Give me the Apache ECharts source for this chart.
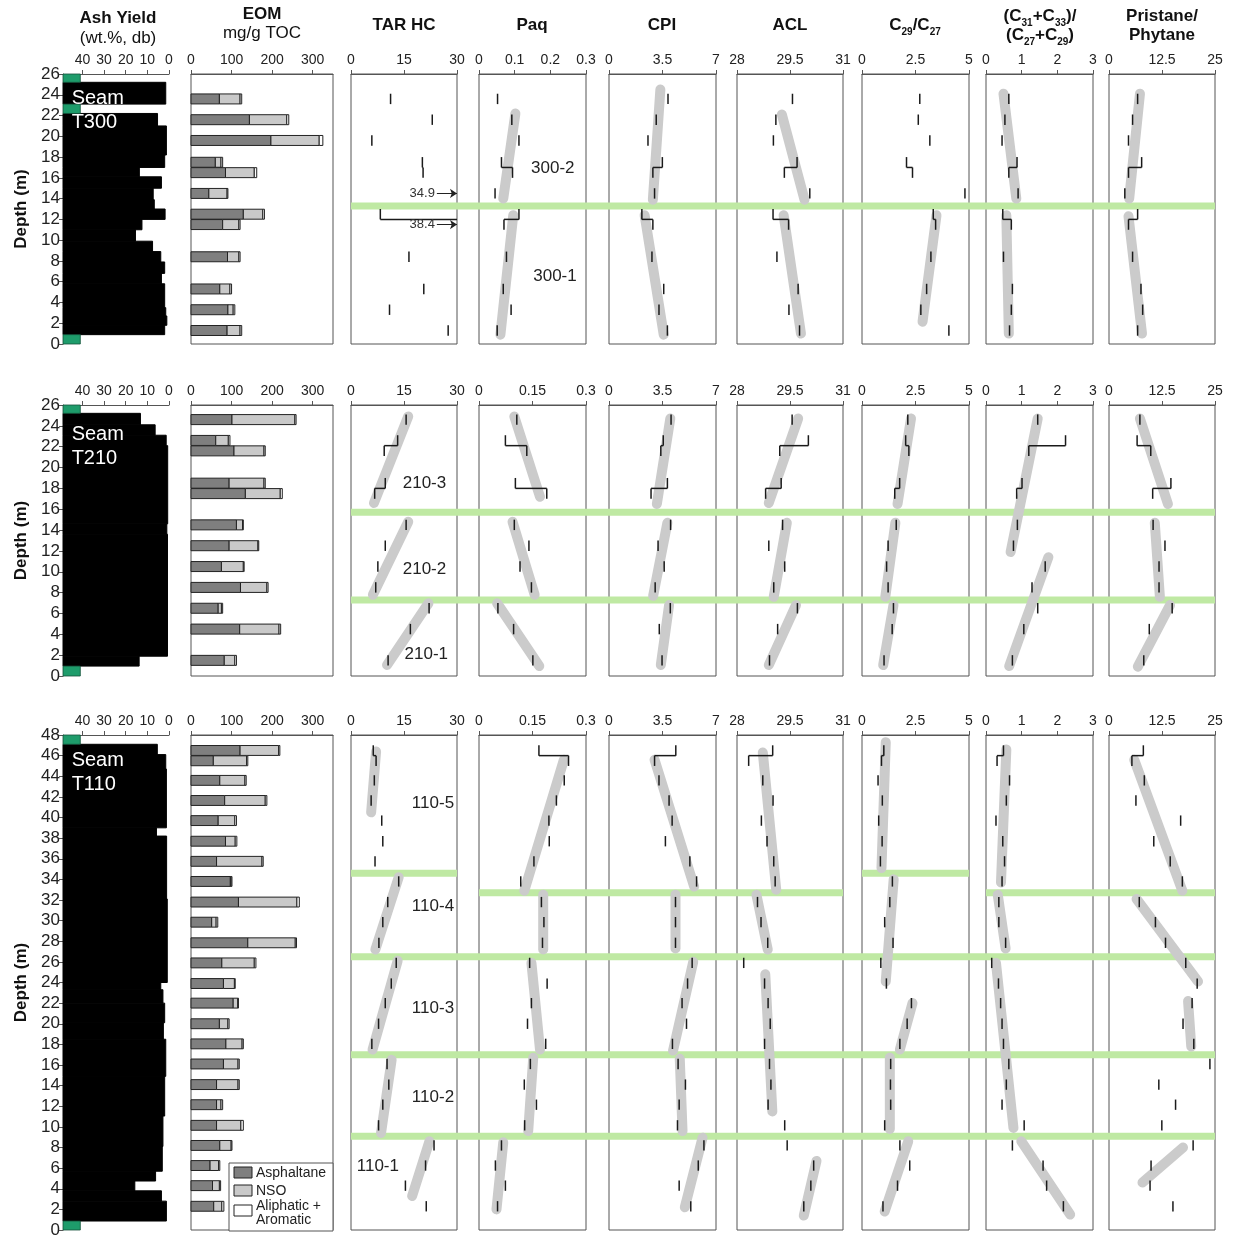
<!DOCTYPE html>
<html>
<head>
<meta charset="utf-8">
<script src="https://cdn.jsdelivr.net/npm/echarts@6/dist/echarts.min.js"></script>
<style>
html,body{margin:0;padding:0;background:#fff;}
#main{width:1235px;height:1239px;}
</style>
</head>
<body>
<div id="main"></div>
<script>
var FONT = '"Liberation Sans", Arial, sans-serif';

// ---------------- data ----------------
var seamNames = ['T300', 'T210', 'T110'];
var depthMax = [26, 26, 48];

// sample mid-depths (m)
var depth300 = [23.6, 21.6, 19.6, 17.5, 16.5, 14.5, 12.5, 11.5, 8.4, 5.3, 3.3, 1.3];
var depth210 = [24.6, 22.6, 21.6, 18.5, 17.5, 14.5, 12.5, 10.5, 8.5, 6.5, 4.5, 1.5];
var depth110 = [46.5, 45.5, 43.6, 41.65, 39.7, 37.7, 35.75, 33.8, 31.8, 29.85, 27.85, 25.9,
                23.9, 22.0, 20.0, 18.05, 16.1, 14.1, 12.15, 10.15, 8.2, 6.25, 4.3, 2.3];

// ash yield intervals [top, bottom, ash wt.%]
var ash300 = [[25.2,23.1,1.5],[22.2,21.0,5.3],[21.0,18.2,1.2],[18.2,17.0,2.0],[17.0,16.1,13.7],[16.1,15.0,3.5],
              [15.0,13.9,7.3],[13.9,13.0,6.8],[13.0,12.0,1.8],[12.0,11.0,12.5],[11.0,9.9,15.5],[9.9,8.9,7.6],
              [8.9,7.9,3.8],[7.9,6.8,2.0],[6.8,5.8,3.5],[5.8,3.5,2.0],[3.5,2.7,1.5],[2.7,1.8,1.0],[1.8,0.9,2.0]];
var ash210 = [[25.2,24.1,13.2],[24.1,23.1,6.4],[23.1,22.1,1.3],[22.1,14.6,0.6],[14.6,13.6,1.0],[13.6,1.9,0.7],[1.9,0.95,13.8]];
var ash110 = [[47.1,46.1,5.4],[46.1,44.7,1.5],[44.7,39.0,1.2],[39.0,38.2,5.8],[38.2,32.1,1.1],[32.1,24.0,0.8],
              [24.0,23.3,3.8],[23.3,22.0,2.8],[22.0,20.1,2.0],[20.1,18.5,2.6],[18.5,14.9,1.5],[14.9,11.05,2.0],
              [11.05,8.1,2.8],[8.1,5.7,3.1],[5.7,4.75,6.2],[4.75,3.8,15.8],[3.8,2.8,3.5],[2.8,0.87,1.2]];
// non-coal intervals [top, bottom]
var rock300 = [[26,25.2],[23.1,22.2],[0.9,0]];
var rock210 = [[26,25.2],[0.95,0]];
var rock110 = [[48,47.1],[0.87,0]];

// EOM fractions (mg/g TOC)
var asph300 = [70, 144, 197, 60, 85, 44, 129, 78, 90, 71, 91, 89];
var nso300 = [51, 92, 119, 14, 71, 45, 48, 40, 28, 25, 13, 32];
var aliph300 = [4, 5, 9, 4, 6, 2, 4, 3, 3, 4, 4, 4];
var asph210 = [101, 61, 106, 94, 134, 112, 94, 75, 122, 67, 120, 82];
var nso210 = [155, 31, 74, 86, 86, 15, 71, 54, 65, 8, 97, 26];
var aliph210 = [3, 4, 3, 3, 5, 2, 2, 2, 3, 3, 4, 4];
var asph110 = [121,55,71,83,67,85,63,97,117,51,140,76,80,104,70,86,80,63,63,63,71,47,53,56];
var nso110 = [95,82,62,100,41,24,112,2,144,11,117,80,27,11,21,40,36,53,11,60,28,21,17,20];
var aliph110 = [3,3,3,4,4,4,3,2,6,4,3,4,2,2,3,3,3,3,4,6,2,3,3,5];

// geochemical parameters
var tarhc300 = [11.2, 23.0, 5.9, 20.2, 20.4, 34.9, 8.3, 38.4, 16.4, 20.6, 10.9, 27.5];
var paq300 = [0.052, 0.092, 0.112, 0.063, 0.094, 0.045, 0.112, 0.070, 0.077, 0.068, 0.090, 0.051];
var cpi300 = [3.86, 3.09, 2.55, 3.49, 2.87, 2.98, 2.15, 2.87, 2.81, 3.58, 3.27, 3.82];
var acl300 = [29.57, 29.10, 29.03, 29.70, 29.34, 30.06, 29.02, 29.46, 29.13, 29.73, 29.47, 29.77];
var c2927_300 = [2.70, 2.63, 3.17, 2.08, 2.36, 4.81, 3.33, 3.44, 3.22, 3.02, 2.75, 4.06];
var c3133_300 = [0.64, 0.53, 0.45, 0.87, 0.64, 0.90, 0.47, 0.71, 0.49, 0.74, 0.71, 0.66];
var prph300 = [6.75, 5.56, 4.6, 7.7, 4.6, 3.73, 6.75, 4.6, 5.56, 7.54, 7.94, 6.75];

var tarhc210 = [15.6, 13.2, 9.4, 9.7, 6.7, 15.6, 9.7, 7.6, 7.0, 22.1, 16.8, 10.5];
var paq210 = [0.106, 0.074, 0.134, 0.102, 0.19, 0.099, 0.140, 0.115, 0.147, 0.053, 0.097, 0.151];
var cpi210 = [4.06, 3.55, 3.39, 3.82, 2.75, 4.03, 3.21, 3.61, 3.02, 4.01, 3.29, 3.47];
var acl210 = [29.56, 30.02, 29.21, 29.25, 28.81, 29.29, 28.90, 29.35, 29.04, 29.71, 29.15, 28.92];
var c2927_210 = [2.14, 2.04, 2.19, 1.76, 1.53, 1.60, 1.22, 1.15, 1.22, 1.47, 1.41, 1.03];
var c3133_210 = [1.45, 2.23, 1.20, 1.01, 0.86, 0.88, 0.77, 1.66, 1.29, 1.45, 1.06, 0.74];
var prph210 = [7.29, 6.63, 9.85, 14.6, 10.3, 10.4, 13.2, 11.8, 11.8, 14.9, 9.5, 8.2];

var tarhc110 = [6.3, 7.1, 6.6, 5.7, 8.7, 9.0, 6.8, 13.5, 10.4, 9.0, 7.9, 12.8, 11.4, 9.7, 7.8, 5.9, 10.2, 10.7, 9.0, 7.8, 23.5, 21.1, 15.4, 21.3];
var paq110 = [0.168, 0.251, 0.239, 0.217, 0.196, 0.197, 0.154, 0.117, 0.175, 0.182, 0.178, 0.142, 0.191, 0.147, 0.136, 0.187, 0.144, 0.127, 0.161, 0.128, 0.063, 0.046, 0.074, 0.052];
var cpi110 = [4.37, 2.98, 3.27, 3.93, 4.13, 3.69, 5.29, 5.73, 4.35, 4.35, 4.35, 5.44, 5.14, 4.78, 5.07, 4.15, 4.52, 5.0, 4.59, 4.48, 6.21, 5.84, 4.59, 5.35];
var acl110 = [29.01, 28.33, 28.73, 29.02, 28.69, 28.85, 29.04, 29.08, 28.58, 28.68, 28.87, 28.19, 28.78, 28.88, 28.94, 28.78, 28.92, 28.96, 28.88, 29.35, 29.42, 30.17, 30.09, 29.89];
var c2927_110 = [1.02, 0.91, 0.75, 0.95, 0.78, 0.94, 0.86, 1.42, 1.30, 1.06, 1.45, 0.88, 1.14, 2.31, 2.11, 1.77, 1.34, 1.33, 1.34, 1.06, 1.77, 2.23, 1.66, 0.98];
var c3133_110 = [0.49, 0.31, 0.66, 0.57, 0.28, 0.47, 0.52, 0.45, 0.36, 0.36, 0.55, 0.16, 0.35, 0.41, 0.45, 0.49, 0.64, 0.57, 0.45, 1.07, 0.74, 1.60, 1.70, 2.17];
var prph110 = [8.1, 5.4, 8.33, 6.35, 16.9, 10.56, 14.44, 17.3, 7.14, 10.95, 13.33, 18.1, 20.8, 19.6, 17.46, 20.0, 23.8, 11.75, 15.7, 12.46, 19.84, 9.92, 9.68, 15.08];

// trend lines [value1, depth1, value2, depth2]
var trendPaq300 = [[0.102, 22.2, 0.068, 14.0], [0.096, 12.4, 0.060, 0.9]];
var trendCpi300 = [[3.36, 24.5, 2.87, 13.9], [2.33, 12.4, 3.58, 0.9]];
var trendAcl300 = [[29.27, 22.1, 29.91, 13.9], [29.32, 12.4, 29.81, 1.0]];
var trendC2927_300 = [[3.48, 12.4, 2.83, 2.15]];
var trendC3133_300 = [[0.49, 24.1, 0.85, 14.0], [0.57, 12.4, 0.64, 1.0]];
var trendPrph300 = [[7.3, 24.1, 4.76, 14.0], [4.6, 12.3, 7.78, 1.0]];

var trendTar210 = [[16.2, 24.9, 6.5, 16.6], [16.2, 14.8, 6.2, 7.8], [21.9, 6.97, 10.2, 1.06]];
var trendPaq210 = [[0.099, 24.9, 0.171, 17.2], [0.094, 14.8, 0.156, 7.8], [0.051, 6.97, 0.169, 0.96]];
var trendCpi210 = [[4.01, 24.7, 3.13, 16.5], [3.82, 14.7, 2.89, 7.7], [3.93, 6.8, 3.39, 1.05]];
var trendAcl210 = [[29.73, 24.7, 28.90, 16.6], [29.41, 14.7, 29.04, 7.6], [29.67, 6.8, 28.90, 1.05]];
var trendC2927_210 = [[2.29, 24.7, 1.66, 16.5], [1.56, 14.7, 1.09, 7.6], [1.47, 6.8, 0.99, 1.05]];
var trendC3133_210 = [[1.45, 24.7, 0.69, 11.9], [1.75, 11.4, 0.65, 0.95]];
var trendPrph210 = [[7.29, 24.7, 13.9, 16.5], [10.8, 14.7, 12.0, 7.6], [14.4, 6.8, 6.8, 0.9]];

var trendTar110 = [[7.1, 46.4, 5.7, 40.5], [13.5, 34.2, 6.9, 27.2], [13.2, 26.1, 6.1, 17.5], [11.5, 16.5, 8.5, 9.4], [22.2, 8.6, 17.3, 3.3]];
var trendPaq110 = [[0.238, 45.6, 0.127, 32.9], [0.18, 32.5, 0.18, 27.2], [0.147, 25.9, 0.171, 17.5], [0.152, 16.7, 0.138, 9.6], [0.068, 8.5, 0.049, 2.0]];
var trendCpi110 = [[2.98, 45.6, 5.57, 33.3], [4.35, 32.5, 4.35, 27.3], [5.51, 26.0, 4.19, 17.4], [4.63, 16.6, 4.81, 9.6], [6.12, 8.95, 4.96, 2.2]];
var trendAcl110 = [[28.73, 46.3, 29.11, 33.0], [28.55, 32.5, 28.87, 27.2], [28.80, 24.8, 29.0, 11.5], [30.25, 6.7, 29.89, 1.4]];
var trendC2927_110 = [[1.11, 47.3, 0.91, 35.1], [1.48, 34.0, 1.11, 24.1], [2.36, 22.0, 1.77, 17.5], [1.30, 16.7, 1.30, 9.8], [2.16, 8.6, 1.06, 1.8]];
var trendC3133_110 = [[0.57, 46.6, 0.42, 33.7], [0.33, 32.5, 0.55, 27.3], [0.28, 25.9, 0.77, 9.9], [0.99, 8.6, 2.36, 1.5]];
var trendPrph110 = [[5.95, 45.6, 17.3, 32.9], [6.5, 32.1, 21.0, 24.1], [18.65, 22.2, 19.4, 17.8], [17.46, 8.0, 7.9, 4.6]];

// subseam boundaries [depth, first panel, last panel]
var bound300 = [[13.3, 2, 8]];
var bound210 = [[15.7, 2, 8], [7.3, 2, 8]];
var bound110 = [[34.6, 2, 2], [34.6, 6, 6], [32.7, 3, 5], [32.7, 7, 8], [26.5, 2, 8], [17.0, 2, 8], [9.1, 2, 8]];

// subseam names
var subseam300 = ['300-2', '300-1'];
var subseam210 = ['210-3', '210-2', '210-1'];
var subseam110 = ['110-5', '110-4', '110-3', '110-2', '110-1'];

// axis tick labels
var ticksAsh = [0, 10, 20, 30, 40];
var ticksEom = [0, 100, 200, 300];
var ticksTar = [0, 15, 30];
var ticksPaq300 = [0, 0.1, 0.2, 0.3];
var ticksPaq = [0, 0.15, 0.3];
var ticksCpi = [0, 3.5, 7];
var ticksAcl = [28, 29.5, 31];
var ticksC2927 = [0, 2.5, 5];
var ticksC3133 = [0, 1, 2, 3];
var ticksPrph = [0, 12.5, 25];

// ---------------- layout ----------------
var colLeft = [63, 191, 351, 479, 609, 737, 862, 986, 1109];
var colWidth = [106, 142, 106, 107, 107, 106, 107, 107, 106];
var rowTop = [74, 405, 735];
var rowHeight = [270, 271, 495];
var axisMin = [0, 0, 0, 0, 0, 28, 0, 0, 0];
var axisMax = [49, 350, 30, 0.3, 7, 31, 5, 3, 25];
var HALF = 0.5;      // sample half thickness (m)
var BAR_HALF = 0.48;
// label anchors [panel, x value, depth]
var labelAt = [
  [[3, 0.207, 16.9], [3, 0.213, 6.5]],
  [[2, 20.8, 18.5], [2, 20.8, 10.2], [2, 21.3, 2.1]],
  [[2, 23.2, 41.4], [2, 23.2, 31.4], [2, 23.2, 21.5], [2, 23.2, 12.9], [2, 7.6, 6.2]]
];
var seamLabelAt = [[45.0, 24.8], [45.0, 24.3], [45.0, 46.7]];

var seams = [
  {depths: depth300, ash: ash300, rock: rock300, eom: [asph300, nso300, aliph300],
   params: [tarhc300, paq300, cpi300, acl300, c2927_300, c3133_300, prph300],
   trends: [[], trendPaq300, trendCpi300, trendAcl300, trendC2927_300, trendC3133_300, trendPrph300],
   bounds: bound300, names: subseam300},
  {depths: depth210, ash: ash210, rock: rock210, eom: [asph210, nso210, aliph210],
   params: [tarhc210, paq210, cpi210, acl210, c2927_210, c3133_210, prph210],
   trends: [trendTar210, trendPaq210, trendCpi210, trendAcl210, trendC2927_210, trendC3133_210, trendPrph210],
   bounds: bound210, names: subseam210},
  {depths: depth110, ash: ash110, rock: rock110, eom: [asph110, nso110, aliph110],
   params: [tarhc110, paq110, cpi110, acl110, c2927_110, c3133_110, prph110],
   trends: [trendTar110, trendPaq110, trendCpi110, trendAcl110, trendC2927_110, trendC3133_110, trendPrph110],
   bounds: bound110, names: subseam110}
];

function ticksFor(r, c) {
  return [ticksAsh, ticksEom, ticksTar, r === 0 ? ticksPaq300 : ticksPaq, ticksCpi, ticksAcl, ticksC2927, ticksC3133, ticksPrph][c];
}

// ---------------- render helpers ----------------
function renderAsh(params, api) {
  var p1 = api.coord([axisMax[0], api.value(0)]);
  var p2 = api.coord([api.value(2), api.value(1)]);
  return {type: 'rect', shape: {x: p1[0], y: p1[1], width: p2[0] - p1[0], height: p2[1] - p1[1]},
          style: {fill: '#000', stroke: '#000', lineWidth: 1}};
}
function renderRock(params, api) {
  var p1 = api.coord([axisMax[0], api.value(0)]);
  var p2 = api.coord([41, api.value(1)]);
  return {type: 'rect', shape: {x: p1[0], y: p1[1], width: p2[0] - p1[0], height: p2[1] - p1[1]},
          style: {fill: '#1e9c6b', stroke: '#14523a', lineWidth: 0.8}};
}
function renderEom(params, api) {
  var d = api.value(0), a = api.value(1), n = api.value(2), r = api.value(3);
  var parts = [[0, a, '#7f7f7f'], [a, a + n, '#c9c9c9'], [a + n, a + n + r, '#ffffff']];
  var kids = parts.map(function (p) {
    var p1 = api.coord([p[0], d + BAR_HALF]);
    var p2 = api.coord([p[1], d - BAR_HALF]);
    return {type: 'rect', shape: {x: p1[0], y: p1[1], width: p2[0] - p1[0], height: p2[1] - p1[1]},
            style: {fill: p[2], stroke: '#222', lineWidth: 1}};
  });
  return {type: 'group', children: kids};
}
function renderTick(params, api) {
  var cs = params.coordSys;
  var xl = cs.x, xr = cs.x + cs.width;
  function clamp(x) { return Math.max(xl, Math.min(xr, x)); }
  var v = api.value(0);
  var pt = api.coord([v, api.value(1)]);
  var pb = api.coord([v, api.value(2)]);
  var st = {stroke: '#1a1a1a', lineWidth: 1.5};
  var kids = [];
  if (pt[0] >= xl - 0.5 && pt[0] <= xr + 0.5) {
    kids.push({type: 'line', shape: {x1: pt[0], y1: pt[1], x2: pb[0], y2: pb[1]}, style: st});
  }
  if (api.value(3) === 1) {
    var pp = api.coord([api.value(4), api.value(1)]);
    kids.push({type: 'line', shape: {x1: clamp(pp[0]), y1: pt[1], x2: clamp(pt[0]), y2: pt[1]}, style: st});
  }
  return {type: 'group', children: kids};
}
function renderTrend(params, api) {
  var a = api.coord([api.value(0), api.value(1)]);
  var b = api.coord([api.value(2), api.value(3)]);
  return {type: 'line', shape: {x1: a[0], y1: a[1], x2: b[0], y2: b[1]},
          style: {stroke: '#cbcbcb', lineWidth: 10, lineCap: 'round'}};
}
function textSeries(gi, points, texts, style) {
  return {
    type: 'custom', xAxisIndex: gi, yAxisIndex: gi, z: 6, silent: true, data: points,
    renderItem: function (params, api) {
      var p = api.coord([api.value(0), api.value(1)]);
      return {type: 'text', x: p[0], y: p[1],
              style: Object.assign({text: texts[params.dataIndex], fontFamily: FONT}, style)};
    }
  };
}
function tickData(depths, vals) {
  var out = [];
  for (var i = 0; i < depths.length; i++) {
    var top = depths[i] + HALF, bot = depths[i] - HALF;
    var link = (i > 0 && Math.abs((depths[i - 1] - HALF) - top) < 0.15) ? 1 : 0;
    out.push([vals[i], top, bot, link, i > 0 ? vals[i - 1] : 0]);
  }
  return out;
}

// ---------------- build option ----------------
var grids = [], xAxes = [], yAxes = [], series = [];
for (var r = 0; r < 3; r++) {
  var S = seams[r];
  for (var c = 0; c < 9; c++) {
    var gi = r * 9 + c;
    var tv = ticksFor(r, c);
    grids.push({left: colLeft[c], top: rowTop[r], width: colWidth[c], height: rowHeight[r],
                show: c > 0, borderColor: '#555', borderWidth: 1, backgroundColor: 'transparent',
                containLabel: false, outerBoundsMode: 'none'});
    xAxes.push({
      gridIndex: gi, type: 'value', position: 'top', min: axisMin[c], max: axisMax[c], inverse: c === 0,
      axisLine: {show: true, onZero: false, lineStyle: {color: '#555', width: 1}},
      axisTick: {show: true, customValues: tv, length: 4, lineStyle: {color: '#555'}},
      axisLabel: {customValues: tv, fontSize: 14, color: '#222', margin: 7, fontFamily: FONT},
      splitLine: {show: false}
    });
    if (c === 0) {
      yAxes.push({
        gridIndex: gi, type: 'value', min: 0, max: depthMax[r], interval: 2,
        axisLine: {show: true, onZero: false, lineStyle: {color: '#555', width: 1}},
        axisTick: {show: true, length: 4, lineStyle: {color: '#555'}},
        axisLabel: {fontSize: 17, color: '#222', margin: 3, fontFamily: FONT},
        splitLine: {show: false},
        name: 'Depth (m)', nameLocation: 'middle', nameGap: 33, nameRotate: 90,
        nameTextStyle: {fontSize: 17, fontWeight: 'bold', color: '#111', fontFamily: FONT}
      });
    } else {
      yAxes.push({gridIndex: gi, type: 'value', min: 0, max: depthMax[r], show: false, splitLine: {show: false}});
    }

    if (c === 0) {
      series.push({type: 'custom', xAxisIndex: gi, yAxisIndex: gi, z: 2, silent: true,
                   data: S.ash, renderItem: renderAsh});
      series.push({type: 'custom', xAxisIndex: gi, yAxisIndex: gi, z: 2, silent: true,
                   data: S.rock, renderItem: renderRock});
      series.push(textSeries(gi, [seamLabelAt[r]], ['Seam\n' + seamNames[r]],
        {fill: '#fff', fontSize: 20, lineHeight: 24, align: 'left', verticalAlign: 'top'}));
    } else if (c === 1) {
      var eomData = S.depths.map(function (d, i) { return [d, S.eom[0][i], S.eom[1][i], S.eom[2][i]]; });
      series.push({type: 'custom', xAxisIndex: gi, yAxisIndex: gi, z: 2, silent: true,
                   data: eomData, renderItem: renderEom});
    } else {
      var vals = S.params[c - 2];
      var tr = S.trends[c - 2];
      if (tr.length) {
        series.push({type: 'custom', xAxisIndex: gi, yAxisIndex: gi, z: 3, silent: true,
                     data: tr, renderItem: renderTrend});
      }
      var arrows = [];
      for (var i = 0; i < vals.length; i++) {
        if (vals[i] > axisMax[c]) {
          arrows.push([{coord: [axisMax[c] - 0.19 * (axisMax[c] - axisMin[c]), S.depths[i]], name: String(vals[i])},
                       {coord: [axisMax[c], S.depths[i]]}]);
        }
      }
      var ser = {type: 'custom', xAxisIndex: gi, yAxisIndex: gi, z: 4, silent: true,
                 data: tickData(S.depths, vals), renderItem: renderTick};
      if (arrows.length) {
        ser.markLine = {silent: true, symbol: ['none', 'arrow'], symbolSize: 7, animation: false,
                        lineStyle: {color: '#222', width: 1, type: 'solid'},
                        label: {show: true, position: 'start', formatter: '{b}', fontSize: 13,
                                color: '#333', distance: 2, fontFamily: FONT},
                        data: arrows};
      }
      series.push(ser);
    }
  }
  // subseam labels
  var la = labelAt[r];
  for (var k = 0; k < la.length; k++) {
    series.push(textSeries(r * 9 + la[k][0], [[la[k][1], la[k][2]]], [S.names[k]],
      {fill: '#222', fontSize: 17, align: 'center', verticalAlign: 'middle'}));
  }
}

// titles and legend
var RICH = {
  b: {fontSize: 17, fontWeight: 'bold', fontFamily: FONT, fill: '#111', lineHeight: 20, verticalAlign: 'top'},
  n: {fontSize: 17, fontFamily: FONT, fill: '#111', lineHeight: 20, verticalAlign: 'top'},
  s: {fontSize: 10, fontWeight: 'bold', fontFamily: FONT, fill: '#111', lineHeight: 10, verticalAlign: 'bottom'}
};
function title(x, y, text) {
  return {type: 'text', x: x, y: y, z: 10, silent: true,
          style: {text: text, rich: RICH, align: 'center', verticalAlign: 'middle'}};
}
function legText(x, y, text) {
  return {type: 'text', x: x, y: y, z: 10, silent: true,
          style: {text: text, fontSize: 14, fontFamily: FONT, fill: '#222', align: 'left', verticalAlign: 'middle'}};
}
function legBox(y, fill) {
  return {type: 'rect', z: 10, silent: true, shape: {x: 234, y: y, width: 18, height: 11},
          style: {fill: fill, stroke: '#222', lineWidth: 1}};
}
var staticGraphics = [
  title(118, 20, '{b|Ash Yield}'), title(118, 40, '{n|(wt.%, db)}'),
  title(262, 16, '{b|EOM}'), title(262, 35, '{n|mg/g TOC}'),
  title(404, 27, '{b|TAR HC}'), title(532, 27, '{b|Paq}'), title(662, 27, '{b|CPI}'),
  title(790, 27, '{b|ACL}'), title(915, 27, '{b|C}{s|29}{b|/C}{s|27}'),
  title(1040, 18, '{b|(C}{s|31}{b|+C}{s|33}{b|)/}'), title(1040, 37, '{b|(C}{s|27}{b|+C}{s|29}{b|)}'),
  title(1162, 18, '{b|Pristane/}'), title(1162, 37, '{b|Phytane}'),
  {type: 'rect', z: 9, silent: true, shape: {x: 229, y: 1163, width: 104, height: 68},
   style: {fill: '#fff', stroke: '#555', lineWidth: 1}},
  legBox(1167, '#7f7f7f'), legText(256, 1173, 'Asphaltane'),
  legBox(1185, '#c9c9c9'), legText(256, 1191, 'NSO'),
  legBox(1205, '#ffffff'), legText(256, 1206, 'Aliphatic +'), legText(256, 1220, 'Aromatic')
];

var option = {
  animation: false,
  backgroundColor: '#fff',
  textStyle: {fontFamily: FONT},
  grid: grids,
  xAxis: xAxes,
  yAxis: yAxes,
  series: series,
  graphic: staticGraphics
};

var chart = echarts.init(document.getElementById('main'));
chart.setOption(option);

// subseam boundary bands across panels
var bands = [];
seams.forEach(function (S, r) {
  S.bounds.forEach(function (b) {
    var p1 = chart.convertToPixel({gridIndex: r * 9 + b[1]}, [axisMin[b[1]], b[0]]);
    var p2 = chart.convertToPixel({gridIndex: r * 9 + b[2]}, [axisMax[b[2]], b[0]]);
    bands.push({type: 'line', z: 1, silent: true,
                shape: {x1: p1[0], y1: p1[1], x2: p2[0], y2: p2[1]},
                style: {stroke: '#bfe9a3', lineWidth: 7}});
  });
});
chart.setOption({graphic: staticGraphics.concat(bands)});
</script>
</body>
</html>
